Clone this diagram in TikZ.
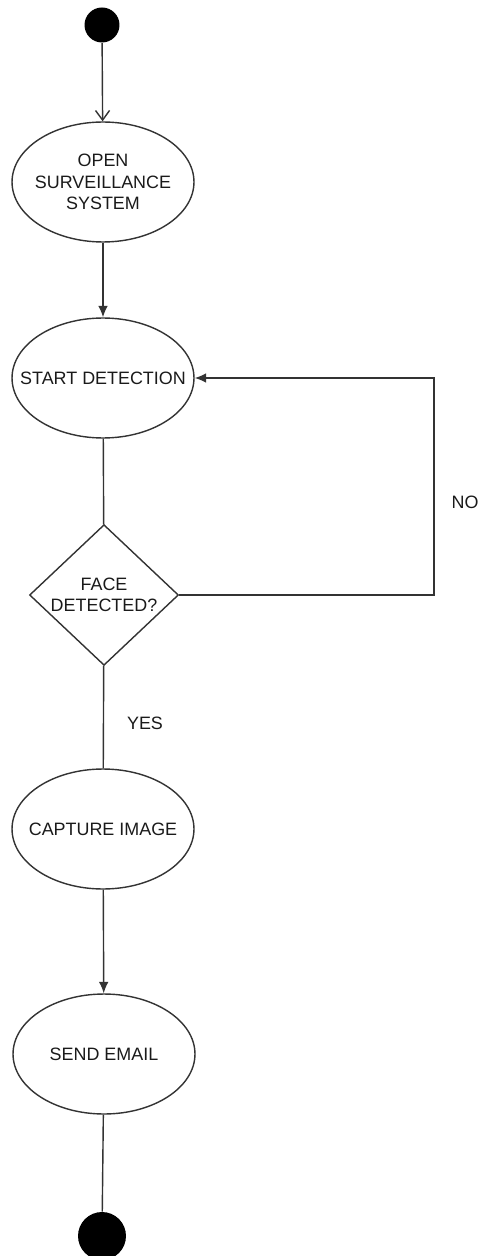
\documentclass[tikz,border=0pt]{standalone}
\usepackage{fontspec}
\setmainfont{Liberation Sans}
\usepackage{xcolor}
\definecolor{LineGray}{HTML}{333333}
\definecolor{InkText}{HTML}{1A1A1A}
\usepackage{tikz}
\usetikzlibrary{positioning,calc,arrows.meta,shapes.geometric}
\tikzset{
  act/.style={draw=LineGray,line width=0.8pt,ellipse,minimum width=3.64cm,
    minimum height=2.4cm,inner xsep=-12pt,inner ysep=0pt,align=center,text=InkText,
    font=\fontsize{10.2}{12.2}\selectfont},
  dec/.style={draw=LineGray,line width=0.8pt,diamond,minimum width=2.98cm,
    minimum height=2.66cm,inner sep=0pt,align=center,text=InkText,
    font=\fontsize{10.2}{12.2}\selectfont},
  term/.style={circle,fill=black,draw=none,inner sep=0pt},
  flow/.style={-{Latex[length=6.5pt,width=5.5pt]},draw=LineGray,line width=0.8pt},
  openflow/.style={-{Straight Barb[length=5.5pt,width=8pt,line width=0.8pt]},
    draw=LineGray,line width=0.8pt},
  plain/.style={draw=LineGray,line width=0.8pt},
  lbl/.style={font=\fontsize{10.2}{12.2}\selectfont,text=InkText},
}

\begin{document}
\begin{tikzpicture}[x=0.02cm,y=-0.02cm]
\useasboundingbox (0,0) rectangle (480,1256);
% states
\node[term,minimum size=0.7cm] (init) at (102,25) {};
\node[act] (open) at (103,182) {OPEN\\SURVEILLANCE\\SYSTEM};
\node[act] (detect) at (103,378) {START DETECTION};
\node[dec] (face) at (104,595) {FACE\\DETECTED?};
\node[act] (capture) at (103,829) {CAPTURE IMAGE};
\node[act] (email) at (104,1054) {SEND EMAIL};
\node[term,minimum size=0.96cm] (final) at (102,1236) {};

% flow
\draw[openflow] (init) -- (open);
\draw[flow] (open) -- (detect);
\draw[plain] (detect) -- (face);
\draw[plain] (face) -- (capture);
\draw[flow] (capture) -- (email);
\draw[plain] (email) -- (final);

% loop back
\coordinate (nocorner) at (434,595);
\draw[flow] (face.east) -- (nocorner) |- (detect.east);
\node[lbl] (nolbl) at (465,502) {NO};
\node[lbl] (yeslbl) at (145,723) {YES};
\end{tikzpicture}
\end{document}
